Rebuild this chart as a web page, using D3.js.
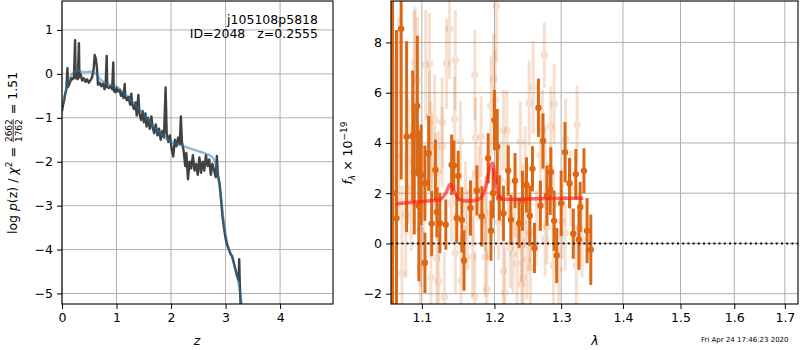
<!DOCTYPE html>
<html>
<head>
<meta charset="utf-8">
<script src="https://cdn.jsdelivr.net/npm/d3@7"></script>
<style>
  body { margin: 0; background: #fff; }
  svg { font-family: "DejaVu Sans", sans-serif; }
  text { white-space: pre; }
</style>
</head>
<body>
<svg id="fig" width="800" height="350"></svg>
<script>
// ---- left panel: log p(z) ----
const zGrid = [0.00,0.02,0.04,0.06,0.08,0.10,0.11,0.14,0.17,0.20,0.22,0.24,0.25,0.27,0.29,0.31,0.32,0.34,0.37,0.40,
  0.43,0.46,0.49,0.52,0.55,0.58,0.60,0.62,0.64,0.66,0.69,0.72,0.75,0.78,0.80,0.82,0.83,0.86,0.89,0.92,
  0.94,0.95,0.98,1.00,1.03,1.06,1.08,1.10,1.13,1.15,1.16,1.19,1.22,1.25,1.27,1.29,1.32,1.35,1.37,1.40,
  1.42,1.45,1.48,1.50,1.53,1.55,1.58,1.61,1.64,1.66,1.69,1.72,1.75,1.78,1.81,1.84,1.87,1.90,1.92,1.95,
  1.98,2.01,2.04,2.07,2.10,2.13,2.16,2.18,2.20,2.23,2.26,2.28,2.31,2.34,2.37,2.40,2.43,2.46,2.49,2.52,
  2.55,2.58,2.61,2.64,2.67,2.70,2.73,2.76,2.79,2.82,2.84,2.86,2.89,2.92,2.94,2.97,3.00,3.03,3.06,3.09,
  3.12,3.15,3.18,3.21,3.24,3.25,3.26,3.28];
const logpChi2 = [-0.85,-0.70,-0.60,-0.45,-0.35,0.13,-0.30,-0.22,-0.10,-0.12,-0.05,0.77,-0.10,-0.02,-0.12,0.70,-0.08,0.00,-0.15,-0.10,
  -0.18,-0.12,-0.20,-0.15,-0.08,0.10,0.43,0.35,0.15,-0.25,-0.20,-0.28,-0.22,-0.35,-0.25,0.41,-0.30,-0.32,-0.28,-0.35,
  0.26,-0.38,-0.42,-0.32,-0.40,-0.36,-0.50,-0.42,-0.55,-0.23,-0.50,-0.60,-0.52,-0.70,-0.45,-0.70,-0.80,-0.65,-0.95,-0.48,
  -0.90,-1.05,-0.85,-1.10,-0.90,-1.20,-1.00,-1.25,-0.97,-1.20,-1.35,-1.15,-1.40,-1.25,-1.50,-1.30,-1.45,-0.31,-1.35,-1.55,
  -1.40,-1.70,-1.88,-1.50,-1.65,-1.45,-1.60,-0.97,-1.55,-1.75,-2.10,-1.80,-2.40,-2.00,-2.15,-1.85,-2.20,-2.05,-2.30,-1.90,
  -2.25,-2.00,-2.20,-1.85,-2.10,-1.95,-2.30,-2.05,-2.20,-2.35,-1.87,-2.30,-2.50,-2.90,-3.20,-3.50,-3.75,-3.90,-4.00,-4.10,
  -4.15,-4.30,-4.45,-4.60,-4.70,-4.22,-4.75,-5.40];
const zSmooth = [0.00,0.05,0.10,0.15,0.20,0.25,0.30,0.35,0.40,0.45,0.50,0.55,0.60,0.65,0.70,0.75,0.80,0.90,1.00,1.10,
  1.20,1.30,1.40,1.50,1.60,1.70,1.80,1.90,2.00,2.10,2.20,2.30,2.40,2.50,2.60,2.70,2.76,2.82,2.87,2.92,
  2.96,3.00,3.05,3.10,3.15,3.20,3.25,3.28,3.31];
const logpSmooth = [-0.72,-0.50,-0.25,-0.08,0.02,0.07,0.08,0.05,0.04,0.04,0.05,0.05,0.03,-0.03,-0.12,-0.17,-0.21,-0.25,-0.29,-0.40,
  -0.52,-0.65,-0.78,-0.92,-1.08,-1.22,-1.35,-1.46,-1.55,-1.60,-1.63,-1.68,-1.72,-1.76,-1.80,-1.85,-1.90,-2.05,-2.40,-2.85,
  -3.30,-3.65,-3.95,-4.10,-4.30,-4.55,-4.85,-5.10,-5.40];
const zTicks = [0, 1, 2, 3, 4];
const logpTicks = [-5, -4, -3, -2, -1, 0, 1];

// ---- right panel: spectrum ----
const binWave = [1.062,1.067,1.073,1.080,1.088,1.090,1.094,1.096,1.099,1.104,1.104,1.109,1.113,1.118,1.120,1.124,1.132,1.140,1.143,1.147,
  1.149,1.154,1.157,1.166,1.175,1.182,1.191,1.195,1.198,1.200,1.204,1.207,1.213,1.220,1.224,1.230,1.236,1.241,1.247,1.252,
  1.256,1.259,1.265,1.268,1.272,1.278,1.283,1.284,1.289,1.293,1.300,1.306,1.313,1.319,1.323,1.328,1.330,1.336,1.341,1.347];
const binFlux = [2.0,1.0,8.55,4.25,4.28,2.86,5.47,1.5,2.73,2.40,-0.77,3.59,0.79,2.93,1.24,0.81,0.75,3.13,3.10,1.01,
  2.69,0.94,-0.68,1.41,2.11,1.08,3.39,0.51,2.0,4.91,3.85,1.81,1.2,2.90,0.94,2.5,0.81,1.7,2.33,1.1,
  2.97,-0.18,5.40,1.50,4.08,1.9,2.13,2.84,0.9,-0.48,1.6,3.63,2.40,0.39,2.76,0.15,1.45,2.89,0.51,-0.25];
const binErr = [10,7.5,6,3.8,2.6,2.5,2.8,3,2,1.5,1.2,1.5,1.3,1.2,1.0,1.2,1.0,1.2,1.0,1.0,
  1.0,1.3,1.2,1.1,1.0,1.2,1.0,1.2,1.0,1.2,1.5,0.9,1.1,1.0,1.0,1.1,1.0,1.2,1.1,1.2,
  0.9,1.0,1.16,1.0,1.1,1.2,1.0,1.0,1.2,1.1,1.3,1.2,1.0,1.0,1.0,1.2,1.0,0.9,1.3,1.4];
const rawWave = [1.066,1.070,1.074,1.079,1.082,1.086,1.090,1.091,1.094,1.098,1.098,1.102,1.105,1.110,1.110,1.112,1.112,1.113,1.117,1.118,
  1.120,1.122,1.122,1.127,1.127,1.130,1.133,1.137,1.140,1.144,1.145,1.145,1.152,1.153,1.159,1.162,1.169,1.170,1.172,1.172,
  1.173,1.178,1.181,1.187,1.187,1.189,1.189,1.195,1.199,1.201,1.203,1.206,1.208,1.213,1.213,1.215,1.218,1.220,1.223,1.227,
  1.230,1.233,1.238,1.240,1.240,1.242,1.245,1.245,1.248,1.251,1.252,1.253,1.257,1.262,1.268,1.271,1.274,1.275,1.275,1.278,
  1.284,1.288,1.288,1.289,1.296,1.301,1.306,1.307,1.315,1.324,1.325,1.329,1.333];
const rawFlux = [3.5,5.0,-1.2,1.14,3.26,2.2,6.77,7.2,6.5,0.51,-0.93,1.9,7.10,7.16,5.07,3.85,-1.37,3.09,4.91,2.80,
  -0.60,2.86,-1.50,4.82,3.85,-2.14,7.16,8.55,1.61,4.95,7.29,-0.38,4.08,-1.48,1.67,0.55,-0.54,1.41,6.70,-2.12,
  4.21,2.4,4.25,-0.54,1.21,0.88,-1.83,5.47,6.53,5.71,9.44,0.84,2.53,4.52,-1.11,-1.96,4.48,2.46,-0.18,-0.42,
  1.74,-0.80,4.05,-0.05,-1.63,-1.37,3.06,1.34,-0.64,5.58,0.42,-0.97,6.21,0.62,3.52,4.52,7.49,3.13,0.18,0.65,
  4.65,1.54,-0.88,5.54,-1.04,0.88,0.42,4.15,2.2,-0.88,4.70,0.60,0.15];
const rawErr = [4,4,3.5,2.5,2.5,2.5,2.5,2.2,2.5,2.2,2.2,2.0,2.2,2.0,1.8,1.8,2.0,1.8,1.8,1.6,
  1.8,1.6,1.8,1.8,1.6,1.8,1.8,2.0,1.6,1.7,2.0,1.6,1.6,1.8,1.6,1.6,1.6,1.5,1.8,1.8,
  1.6,1.5,1.6,1.6,1.5,1.5,1.6,2.0,1.8,2.0,2.2,1.5,1.5,1.6,1.6,1.8,1.6,1.5,1.6,1.6,
  1.5,1.6,1.6,1.5,1.6,1.6,1.6,1.5,1.6,1.7,1.5,1.6,1.85,1.5,1.6,1.6,1.3,1.6,1.5,1.5,
  1.6,1.5,1.6,1.6,1.6,1.5,1.5,1.6,1.5,1.6,1.6,1.5,1.5];
const modelWave = [1.066,1.080,1.100,1.115,1.125,1.132,1.138,1.143,1.150,1.160,1.170,1.180,1.188,1.193,1.197,1.201,1.206,1.212,1.230,1.260,
  1.290,1.320,1.335];
const modelFlux = [1.57,1.62,1.67,1.71,1.76,2.00,2.36,2.10,1.76,1.69,1.70,1.80,2.30,3.00,3.20,2.60,1.90,1.76,1.76,1.78,
  1.79,1.80,1.80];
const waveTicks = [1.1, 1.2, 1.3, 1.4, 1.5, 1.6, 1.7];
const fluxTicks = [-2, 0, 2, 4, 6, 8];

const svg = d3.select("#fig");
const gridColor = "#b0b0b0";
const fontSize = 12.5;

// panel boxes
const L = { x0: 62, x1: 333, y0: 1, y1: 304 };
const R = { x0: 391, x1: 798, y0: 1, y1: 304 };

const xz = d3.scaleLinear().domain([0, 4.97]).range([L.x0, L.x1]);
const yp = d3.scaleLinear().domain([-5.24, 1.66]).range([L.y1, L.y0]);
const xw = d3.scaleLog().domain([1.06, 1.727]).range([R.x0, R.x1]);
const yf = d3.scaleLinear().domain([-2.41, 9.65]).range([R.y1, R.y0]);

const defs = svg.append("defs");
defs.append("clipPath").attr("id", "clipL").append("rect")
  .attr("x", L.x0).attr("y", L.y0).attr("width", L.x1 - L.x0).attr("height", L.y1 - L.y0);
defs.append("clipPath").attr("id", "clipR").append("rect")
  .attr("x", R.x0).attr("y", R.y0).attr("width", R.x1 - R.x0).attr("height", R.y1 - R.y0);

// grids + axes
function drawAxes(box, xs, ys, xt, yt, xfmt, yfmt) {
  const g = svg.append("g");
  g.selectAll(".gx").data(xt).enter().append("line")
    .attr("x1", d => xs(d)).attr("x2", d => xs(d)).attr("y1", box.y0).attr("y2", box.y1)
    .attr("stroke", gridColor).attr("stroke-width", 1);
  g.selectAll(".gy").data(yt).enter().append("line")
    .attr("x1", box.x0).attr("x2", box.x1).attr("y1", d => ys(d)).attr("y2", d => ys(d))
    .attr("stroke", gridColor).attr("stroke-width", 1);

  const ax = svg.append("g").attr("transform", `translate(0,${box.y1})`)
    .call(d3.axisBottom(xs).tickValues(xt).tickFormat(xfmt).tickSize(5).tickPadding(4));
  const ay = svg.append("g").attr("transform", `translate(${box.x0},0)`)
    .call(d3.axisLeft(ys).tickValues(yt).tickFormat(yfmt).tickSize(5).tickPadding(4));
  [ax, ay].forEach(a => {
    a.select(".domain").remove();
    a.selectAll("text").attr("font-size", fontSize).attr("font-family", "DejaVu Sans").attr("fill", "#000");
    a.selectAll("line").attr("stroke", "#000").attr("stroke-width", 1);
  });
  return g;
}
const minus = d => d3.format("")(d).replace("-", "\u2212");
drawAxes(L, xz, yp, zTicks, logpTicks, d => d, minus);
drawAxes(R, xw, yf, waveTicks, fluxTicks, d3.format(".1f"), minus);

// left curves
const lineL = d3.line().x(d => xz(d[0])).y(d => yp(d[1]));
const gl = svg.append("g").attr("clip-path", "url(#clipL)");
gl.append("path").datum(d3.zip(zGrid, logpChi2))
  .attr("d", lineL).attr("fill", "none").attr("stroke", "#2e2e2e").attr("stroke-width", 2.4)
  .attr("stroke-linejoin", "round").attr("opacity", 0.9);
gl.append("path").datum(d3.zip(zSmooth, logpSmooth))
  .attr("d", lineL.curve(d3.curveMonotoneX)).attr("fill", "none").attr("stroke", "#1f77b4")
  .attr("stroke-width", 2.4).attr("opacity", 0.5);

// right spectrum
const gr = svg.append("g").attr("clip-path", "url(#clipR)");
const orange = "#dc6814";
function errPoints(wave, flux, err, alpha, r) {
  const data = d3.zip(wave, flux, err);
  const g = gr.append("g").attr("opacity", alpha);
  g.selectAll("line").data(data).enter().append("line")
    .attr("x1", d => xw(d[0])).attr("x2", d => xw(d[0]))
    .attr("y1", d => yf(d[1] - d[2])).attr("y2", d => yf(d[1] + d[2]))
    .attr("stroke", orange).attr("stroke-width", 3);
  g.selectAll("circle").data(data).enter().append("circle")
    .attr("cx", d => xw(d[0])).attr("cy", d => yf(d[1])).attr("r", r).attr("fill", orange);
}
// light points are drawn individually with alpha
d3.zip(rawWave, rawFlux, rawErr).forEach(d => errPoints([d[0]], [d[1]], [d[2]], 0.2, 3.8));
errPoints(binWave, binFlux, binErr, 1, 3.2);

gr.append("path").datum(d3.zip(modelWave, modelFlux))
  .attr("d", d3.line().x(d => xw(d[0])).y(d => yf(d[1])).curve(d3.curveMonotoneX))
  .attr("fill", "none").attr("stroke", "#ff1a1a").attr("stroke-width", 3.5).attr("opacity", 0.65);

gr.append("line").attr("x1", R.x0).attr("x2", R.x1).attr("y1", yf(0)).attr("y2", yf(0))
  .attr("stroke", "#111").attr("stroke-width", 2).attr("stroke-dasharray", "2,3.2");

// frames
[L, R].forEach(b => svg.append("rect").attr("x", b.x0).attr("y", b.y0)
  .attr("width", b.x1 - b.x0).attr("height", b.y1 - b.y0)
  .attr("fill", "none").attr("stroke", "#000").attr("stroke-width", 1.1));

// annotations
svg.append("text").attr("x", 318).attr("y", 24).attr("text-anchor", "end")
  .attr("font-size", fontSize).text("j105108p5818");
svg.append("text").attr("x", 318).attr("y", 38).attr("text-anchor", "end")
  .attr("font-size", fontSize).text("ID=2048   z=0.2555");

// axis labels
svg.append("text").attr("x", 197).attr("y", 345).attr("text-anchor", "middle")
  .attr("font-size", fontSize).attr("font-style", "italic").text("z");
svg.append("text").attr("x", 595).attr("y", 345).attr("text-anchor", "middle")
  .attr("font-size", fontSize).attr("font-style", "italic").text("λ");

// left y label with fraction
const yl = svg.append("g");
const t1 = yl.append("text").attr("font-size", fontSize);
t1.append("tspan").text("log ");
t1.append("tspan").attr("font-style", "italic").text("p");
t1.append("tspan").text("(z) / ");
t1.append("tspan").attr("font-style", "italic").text("χ");
t1.append("tspan").attr("font-size", 9).attr("dy", -5).text("2");
t1.append("tspan").attr("dy", 5).text(" = ");
const w1 = t1.node().getComputedTextLength();
const num = yl.append("text").attr("font-size", 9).attr("x", w1 + 1).attr("y", -5.5).text("2662");
const den = yl.append("text").attr("font-size", 9).attr("x", w1 + 1).attr("y", 4.5).text("1762");
const wf = Math.max(num.node().getComputedTextLength(), den.node().getComputedTextLength());
yl.append("line").attr("x1", w1 + 1).attr("x2", w1 + 1 + wf).attr("y1", -3.8).attr("y2", -3.8)
  .attr("stroke", "#000").attr("stroke-width", 0.8);
const t2 = yl.append("text").attr("font-size", fontSize).attr("x", w1 + wf + 2).text(" = 1.51");
const W = w1 + wf + 2 + t2.node().getComputedTextLength();
yl.attr("transform", `translate(17,153) rotate(-90) translate(${-W / 2},0)`);

// right y label
const yr = svg.append("text").attr("font-size", fontSize).attr("text-anchor", "middle")
  .attr("transform", "translate(352,153) rotate(-90)");
yr.append("tspan").attr("font-style", "italic").text("f");
yr.append("tspan").attr("font-style", "italic").attr("font-size", 9).attr("dy", 3).text("λ");
yr.append("tspan").attr("dy", -3).text(" × 10");
yr.append("tspan").attr("font-size", 9).attr("dy", -5).text("−19");

// timestamp
svg.append("text").attr("x", 701).attr("y", 342).attr("font-size", 7).text("Fri Apr 24 17:46:23 2020");
</script>
</body>
</html>
